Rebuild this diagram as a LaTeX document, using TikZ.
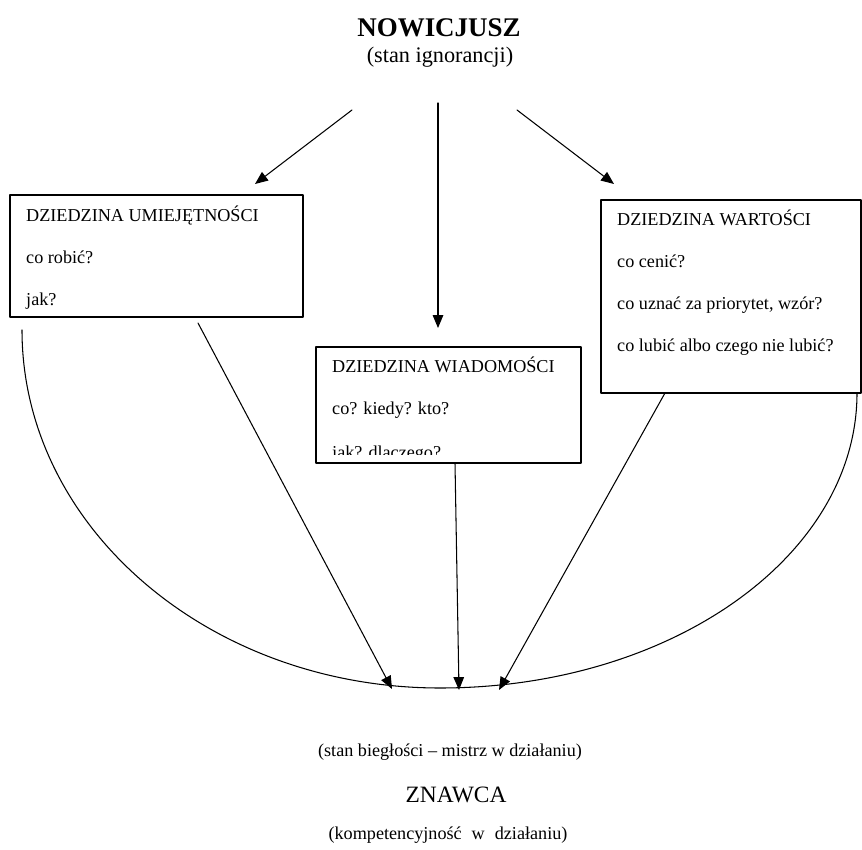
\documentclass[tikz,border=0pt]{standalone}
\usepackage{fontspec}
\setmainfont{Liberation Serif}
\usetikzlibrary{arrows.meta}
\begin{document}
\begin{tikzpicture}[x=0.03cm, y=-0.03cm, line join=round, line cap=round,
  every node/.style={inner sep=0pt},
  pole/.style={draw, line width=1.1pt, fill=white},
  wiersz/.style={anchor=base west, font=\fontsize{15.5}{18}\selectfont},
  podpis/.style={font=\fontsize{15.5}{18}\selectfont},
  strz/.style={-{Triangle[length=11pt,width=9pt]}, line width=0.9pt}]

\useasboundingbox (0,0) rectangle (862,850);

% nowicjusz
\node[font=\fontsize{23}{26}\selectfont\bfseries] (nowicjusz) at (439,28) {NOWICJUSZ};
\node[font=\fontsize{19}{22}\selectfont] (ignorancja) at (440,57) {(stan ignorancji)};

% luk
\coordinate (lukL) at (22,330);
\coordinate (lukD) at (440,688);
\coordinate (lukP) at (857,393);
\draw[line width=0.9pt] (lukL) .. controls (22,527) and (209,688) .. (lukD) .. controls (671,688) and (857,556) .. (lukP);

% strzalki od nowicjusza
\coordinate (s1) at (352,110);
\coordinate (k1) at (255,184);
\coordinate (s2) at (438,103);
\coordinate (k2) at (438,328);
\coordinate (s3) at (517,110);
\coordinate (k3) at (614,184);
\draw[strz] (s1) -- (k1);
\draw[strz] (s2) -- (k2);
\draw[strz] (s3) -- (k3);

% dziedzina umiejetnosci
\draw[pole] (10,195) rectangle (303,317);
\node[wiersz] (umiej1) at (26,222) {DZIEDZINA UMIEJĘTNOŚCI};
\node[wiersz] (umiej2) at (26,264) {co robić?};
\node[wiersz] (umiej3) at (26,306) {jak?};

% dziedzina wiadomosci
\draw[pole] (316,347) rectangle (581,463);
\begin{scope}
  \clip (316,347) rectangle (581,455);
  \node[wiersz] (wiad1) at (332,373) {DZIEDZINA WIADOMOŚCI};
  \node[wiersz] (wiad2) at (332,415) {co? kiedy? kto?};
  \node[wiersz] (wiad3) at (332,459) {jak? dlaczego?};
\end{scope}

% dziedzina wartosci
\draw[pole] (601,200) rectangle (861,393);
\node[wiersz] (wart1) at (617,226) {DZIEDZINA WARTOŚCI};
\node[wiersz] (wart2) at (617,268) {co cenić?};
\node[wiersz] (wart3) at (617,310) {co uznać za priorytet, wzór?};
\node[wiersz] (wart4) at (617,352) {co lubić albo czego nie lubić?};

% strzalki do znawcy
\coordinate (u1) at (198,323);
\coordinate (z1) at (392,689);
\coordinate (u2) at (455,463);
\coordinate (z2) at (459,690);
\coordinate (u3) at (665,393);
\coordinate (z3) at (499,690);
\draw[strz] (u1) -- (z1);
\draw[strz] (u2) -- (z2);
\draw[strz] (u3) -- (z3);

% znawca
\node[podpis] (bieglosc) at (450,752) {(stan biegłości – mistrz w działaniu)};
\node[font=\fontsize{20}{24}\selectfont] (znawca) at (456,795) {ZNAWCA};
\node[podpis] (kompetencja) at (448,835) {(kompetencyjność\hspace{0.3em} w\hspace{0.3em} działaniu)};

\end{tikzpicture}
\end{document}
